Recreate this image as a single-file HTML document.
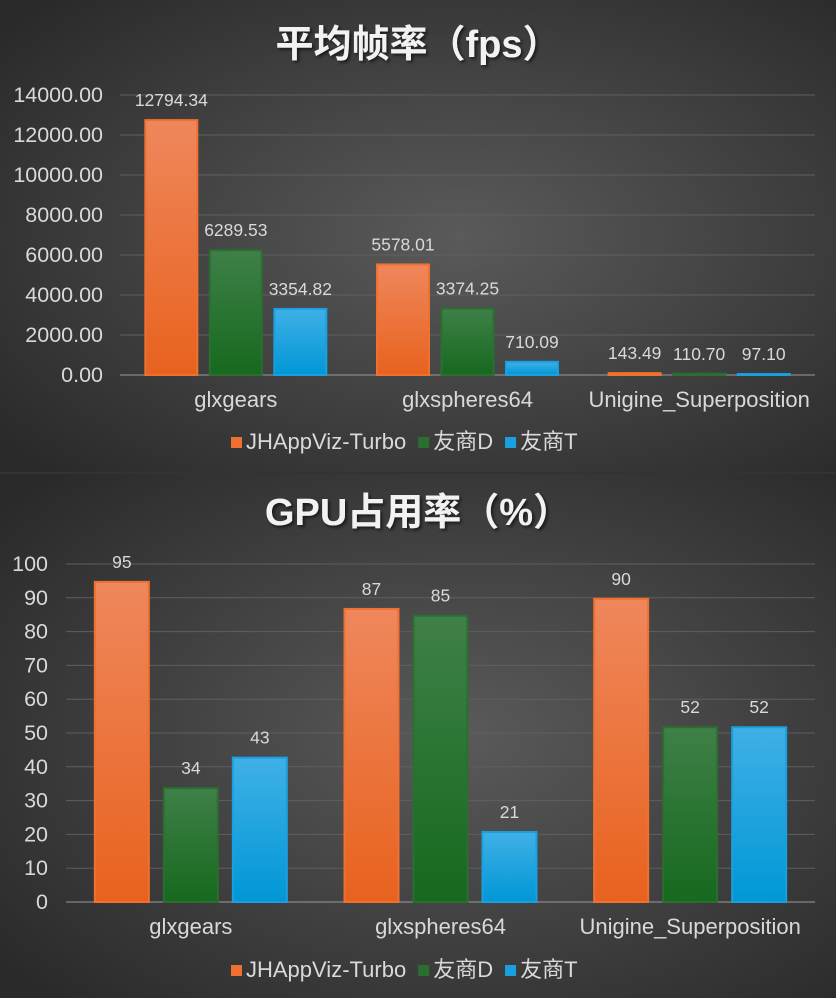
<!DOCTYPE html>
<html><head><meta charset="utf-8">
<style>
html,body{margin:0;padding:0;background:#333;}
svg{display:block;font-family:"Liberation Sans","Noto Sans CJK SC",sans-serif;}
</style></head>
<body>
<svg id="c" width="836" height="998">
<defs>
<radialGradient id="bg" cx="55%" cy="50%" r="70%">
<stop offset="0" stop-color="#5a5a5a"/><stop offset="1" stop-color="#2a2a2a"/>
</radialGradient>
<linearGradient id="gO" x1="0" y1="0" x2="0" y2="1"><stop offset="0" stop-color="#ef875c"/><stop offset="1" stop-color="#e8621e"/></linearGradient>
<linearGradient id="gG" x1="0" y1="0" x2="0" y2="1"><stop offset="0" stop-color="#3f8048"/><stop offset="1" stop-color="#16691e"/></linearGradient>
<linearGradient id="gB" x1="0" y1="0" x2="0" y2="1"><stop offset="0" stop-color="#40b0e6"/><stop offset="1" stop-color="#0097d6"/></linearGradient>
<filter id="sh"><feDropShadow dx="2" dy="2" stdDeviation="1.5" flood-color="#000" flood-opacity="0.6"/></filter>
</defs>
<rect x="0" y="0" width="836" height="472" fill="url(#bg)"/>
<rect x="0" y="474" width="836" height="524" fill="url(#bg)"/>
<g id="g1"></g><g id="g2"></g>
</svg>
<script>
const categories = ["glxgears","glxspheres64","Unigine_Superposition"];
const seriesNames = ["JHAppViz-Turbo","友商D","友商T"];
const fpsTurbo = [12794.34,5578.01,143.49];
const fpsD = [6289.53,3374.25,110.70];
const fpsT = [3354.82,710.09,97.10];
const fpsTicks = [0,2000,4000,6000,8000,10000,12000,14000];
const gpuTurbo = [95,87,90];
const gpuD = [34,85,52];
const gpuT = [43,21,52];
const gpuTicks = [0,10,20,30,40,50,60,70,80,90,100];
const fills = ["url(#gO)","url(#gG)","url(#gB)"];
const strokes = ["#f07030","#2b6e30","#1aa0e0"];
const NS="http://www.w3.org/2000/svg";
function mk(p,tag,attrs,name,text){const e=document.createElementNS(NS,tag);for(const k in attrs)e.setAttribute(k,attrs[k]);


if(text!==undefined)e.textContent=text;p.appendChild(e);return e;}
function chart(gid,o){
const g=document.getElementById(gid);
const y=v=>o.y0-(v-o.min)/(o.max-o.min)*(o.y0-o.y1);
mk(g,'text',{x:418,y:o.titleY,'text-anchor':'middle','font-size':38,'font-weight':'bold',fill:'#f2f2f2',filter:'url(#sh)'},'chart-title',o.title);
o.ticks.forEach(t=>{
 mk(g,'line',{x1:o.x0,x2:o.x1,y1:y(t),y2:y(t),stroke:t===o.min?'#9a9a9a':'#5f5f5f','stroke-width':1},'gridline');
 mk(g,'text',{x:o.labX,y:y(t)+7,'text-anchor':'end','font-size':21.5,fill:'#d9d9d9'},'y-tick-label',o.fmt(t));
});
const cw=(o.x1-o.x0)/categories.length;
const series=[o.s1,o.s2,o.s3];
categories.forEach((c,i)=>{
 const cx=o.x0+cw*(i+0.5);
 series.forEach((s,j)=>{
  const bx=cx+(j-1)*o.step-o.bw/2;const top=y(s[i]);
  mk(g,'rect',{x:bx+1,y:top+1,width:o.bw-2,height:Math.max(0,y(o.min)-top-1),fill:fills[j],stroke:strokes[j],'stroke-width':2},'bar-'+c+'-'+j);
  mk(g,'text',{x:bx+o.bw/2,y:top-13,'text-anchor':'middle','font-size':17.5,fill:'#d9d9d9'},'value-label',o.vfmt(s[i]));
 });
 mk(g,'text',{x:cx,y:o.y0+32,'text-anchor':'middle','font-size':22,fill:'#d9d9d9'},'x-tick-label',c);
});
let lx=o.legX;
seriesNames.forEach((n,j)=>{
 mk(g,'rect',{x:lx,y:o.legY-12,width:11,height:11,fill:strokes[j]},'legend-swatch');
 const t=mk(g,'text',{x:lx+15,y:o.legY,'font-size':22,fill:'#d9d9d9'},'legend-entry',n);
 lx+=15+t.getComputedTextLength()+12;
});
}
chart('g1',{title:'平均帧率（fps）',titleY:57,x0:120,x1:815,y0:375,y1:95,min:0,max:14000,ticks:fpsTicks,labX:103,
 fmt:t=>t.toFixed(2),vfmt:v=>v.toFixed(2),s1:fpsTurbo,s2:fpsD,s3:fpsT,step:64.5,bw:54,legY:449,legX:231});
chart('g2',{title:'GPU占用率（%）',titleY:525,x0:66,x1:815,y0:902,y1:564,min:0,max:100,ticks:gpuTicks,labX:48,
 fmt:t=>String(t),vfmt:v=>String(v),s1:gpuTurbo,s2:gpuD,s3:gpuT,step:69,bw:56,legY:977,legX:231});
</script>
</body></html>
